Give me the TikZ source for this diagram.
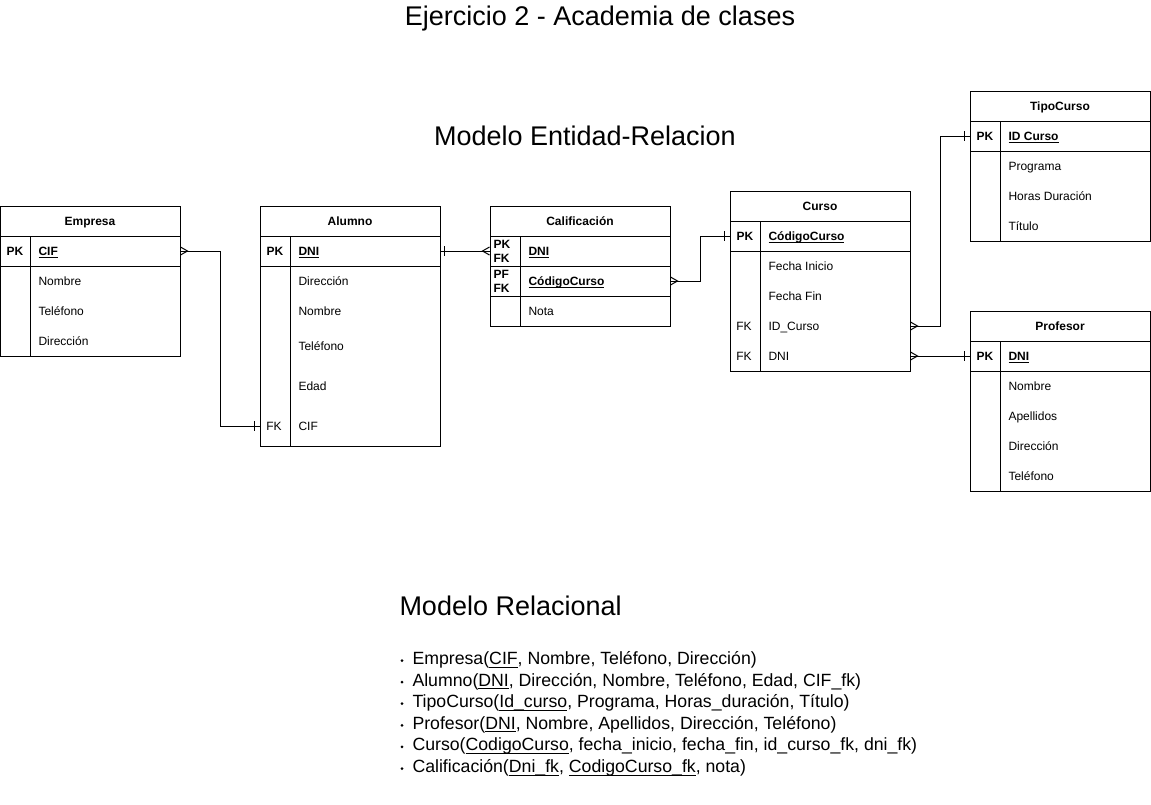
\documentclass[tikz,border=0pt]{standalone}
\usepackage{fontspec}
\setmainfont{Liberation Sans}
\newcommand{\subrayado}[1]{\setbox0\hbox{#1}\leavevmode\rlap{\vrule height -0.12em depth \dimexpr0.12em+1pt\relax width \wd0}\box0}
\tikzset{
  tabla/.style={draw, anchor=north west, minimum width=180, inner sep=0},
  fila/.style={minimum width=180, minimum height=30, inner sep=0},
  letra/.style={font=\fontsize{12}{14}\selectfont, inner sep=0, text height=8.6, text depth=0},
  cabecera/.style={letra, font=\fontsize{12}{14}\selectfont\bfseries},
  clave/.style={cabecera},
  clavefk/.style={letra},
  clave2/.style={cabecera, anchor=west},
  campo/.style={letra, anchor=west},
  campopk/.style={campo, font=\fontsize{12}{14}\selectfont\bfseries},
  titulo/.style={anchor=base, font=\fontsize{27}{32}\selectfont, inner sep=0},
  rel/.style={anchor=base west, font=\fontsize{17.7}{21}\selectfont, inner sep=0},
}
\begin{document}
\begin{tikzpicture}[x=1pt, y=-1pt, line width=1pt]
\useasboundingbox (0,0) rectangle (1151,804);

\node[titulo] (titulo) at (600,25) {Ejercicio 2 - Academia de clases};
\node[titulo] (modeloER) at (585,145.5) {Modelo Entidad-Relacion};

% Empresa
\node[tabla, minimum height=150] (empresa) at (0,206) {};
\draw (0,236) -- (180,236) (0,266) -- (180,266) (30,236) -- (30,356);
\node[cabecera] at (90,221) {Empresa};
\node[fila] (empCIF) at (90,251) {};
\node[clave] at (15,251) {PK};
\node[campopk] at (38,251) {\subrayado{CIF}};
\node[campo] at (38,281) {Nombre};
\node[campo] at (38,311) {Teléfono};
\node[campo] at (38,341) {Dirección};

% Alumno
\node[tabla, minimum height=240] (alumno) at (260,206) {};
\draw (260,236) -- (440,236) (260,266) -- (440,266) (290,236) -- (290,446);
\node[cabecera] at (350,221) {Alumno};
\node[fila] (aluDNI) at (350,251) {};
\node[clave] at (275,251) {PK};
\node[campopk] at (298,251) {\subrayado{DNI}};
\node[campo] at (298,281) {Dirección};
\node[campo] at (298,311) {Nombre};
\node[campo] at (298,346) {Teléfono};
\node[campo] at (298,386) {Edad};
\node[fila, minimum height=40] (aluCIF) at (350,426) {};
\node[clavefk] at (274,426) {FK};
\node[campo] at (298,426) {CIF};

% Calificacion
\node[tabla, minimum height=120] (calificacion) at (490,206) {};
\draw (490,236) -- (670,236) (490,266) -- (670,266) (490,296) -- (670,296) (520,236) -- (520,326);
\node[cabecera] at (580,221) {Calificación};
\node[fila] (calDNI) at (580,251) {};
\node[clave2] at (493,244.5) {PK};
\node[clave2] at (493,258) {FK};
\node[campopk] at (528,251) {\subrayado{DNI}};
\node[fila] (calCod) at (580,281) {};
\node[clave2] at (493,274.5) {PF};
\node[clave2] at (493,288) {FK};
\node[campopk] at (528,281) {\subrayado{CódigoCurso}};
\node[campo] at (528,311) {Nota};

% Curso
\node[tabla, minimum height=180] (curso) at (730,191) {};
\draw (730,221) -- (910,221) (730,251) -- (910,251) (760,221) -- (760,371);
\node[cabecera] at (820,206) {Curso};
\node[fila] (curCod) at (820,236) {};
\node[clave] at (745,236) {PK};
\node[campopk] at (768,236) {\subrayado{CódigoCurso}};
\node[campo] at (768,266) {Fecha Inicio};
\node[campo] at (768,296) {Fecha Fin};
\node[fila] (curIDC) at (820,326) {};
\node[clavefk] at (744,326) {FK};
\node[campo] at (768,326) {ID\_Curso};
\node[fila] (curDNI) at (820,356) {};
\node[clavefk] at (744,356) {FK};
\node[campo] at (768,356) {DNI};

% TipoCurso
\node[tabla, minimum height=150] (tipocurso) at (970,91) {};
\draw (970,121) -- (1150,121) (970,151) -- (1150,151) (1000,121) -- (1000,241);
\node[cabecera] at (1060,106) {TipoCurso};
\node[fila] (tipID) at (1060,136) {};
\node[clave] at (985,136) {PK};
\node[campopk] at (1008,136) {\subrayado{ID Curso}};
\node[campo] at (1008,166) {Programa};
\node[campo] at (1008,196) {Horas Duración};
\node[campo] at (1008,226) {Título};

% Profesor
\node[tabla, minimum height=180] (profesor) at (970,311) {};
\draw (970,341) -- (1150,341) (970,371) -- (1150,371) (1000,341) -- (1000,491);
\node[cabecera] at (1060,326) {Profesor};
\node[fila] (profDNI) at (1060,356) {};
\node[clave] at (985,356) {PK};
\node[campopk] at (1008,356) {\subrayado{DNI}};
\node[campo] at (1008,386) {Nombre};
\node[campo] at (1008,416) {Apellidos};
\node[campo] at (1008,446) {Dirección};
\node[campo] at (1008,476) {Teléfono};

% relaciones
\draw (empCIF.east) -- ++(40,0) |- (aluCIF.west);
\draw ([yshift=4]empCIF.east) -- ([xshift=7]empCIF.east) -- ([yshift=-4]empCIF.east);
\draw ([xshift=-5,yshift=5]aluCIF.west) -- ([xshift=-5,yshift=-5]aluCIF.west);

\draw (aluDNI.east) -- (calDNI.west);
\draw ([xshift=4,yshift=5]aluDNI.east) -- ([xshift=4,yshift=-5]aluDNI.east);
\draw ([yshift=4]calDNI.west) -- ([xshift=-7]calDNI.west) -- ([yshift=-4]calDNI.west);

\draw (calCod.east) -- ++(30,0) |- (curCod.west);
\draw ([yshift=4]calCod.east) -- ([xshift=7]calCod.east) -- ([yshift=-4]calCod.east);
\draw ([xshift=-5,yshift=5]curCod.west) -- ([xshift=-5,yshift=-5]curCod.west);

\draw (curIDC.east) -- ++(30,0) |- (tipID.west);
\draw ([yshift=4]curIDC.east) -- ([xshift=7]curIDC.east) -- ([yshift=-4]curIDC.east);
\draw ([xshift=-5,yshift=5]tipID.west) -- ([xshift=-5,yshift=-5]tipID.west);

\draw (curDNI.east) -- (profDNI.west);
\draw ([yshift=4]curDNI.east) -- ([xshift=7]curDNI.east) -- ([yshift=-4]curDNI.east);
\draw ([xshift=-5,yshift=5]profDNI.west) -- ([xshift=-5,yshift=-5]profDNI.west);

% modelo relacional
\node[titulo, anchor=base west] (modeloR) at (399,615) {Modelo Relacional};
\node[rel] (r1) at (412,664.5) {Empresa(\subrayado{CIF}, Nombre, Teléfono, Dirección)};
\node[rel] (r2) at (412,686.1) {Alumno(\subrayado{DNI}, Dirección, Nombre, Teléfono, Edad, CIF\_fk)};
\node[rel] (r3) at (412,707.7) {TipoCurso(\subrayado{Id\_curso}, Programa, Horas\_duración, Título)};
\node[rel] (r4) at (412,729.3) {Profesor(\subrayado{DNI}, Nombre, Apellidos, Dirección, Teléfono)};
\node[rel] (r5) at (412,750.9) {Curso(\subrayado{CodigoCurso}, fecha\_inicio, fecha\_fin, id\_curso\_fk, dni\_fk)};
\node[rel] (r6) at (412,772.5) {Calificación(\subrayado{Dni\_fk}, \subrayado{CodigoCurso\_fk}, nota)};
\foreach \r in {r1,r2,r3,r4,r5,r6}
  \fill ([xshift=-10,yshift=4]\r.base west) circle (1.5);
\end{tikzpicture}
\end{document}
